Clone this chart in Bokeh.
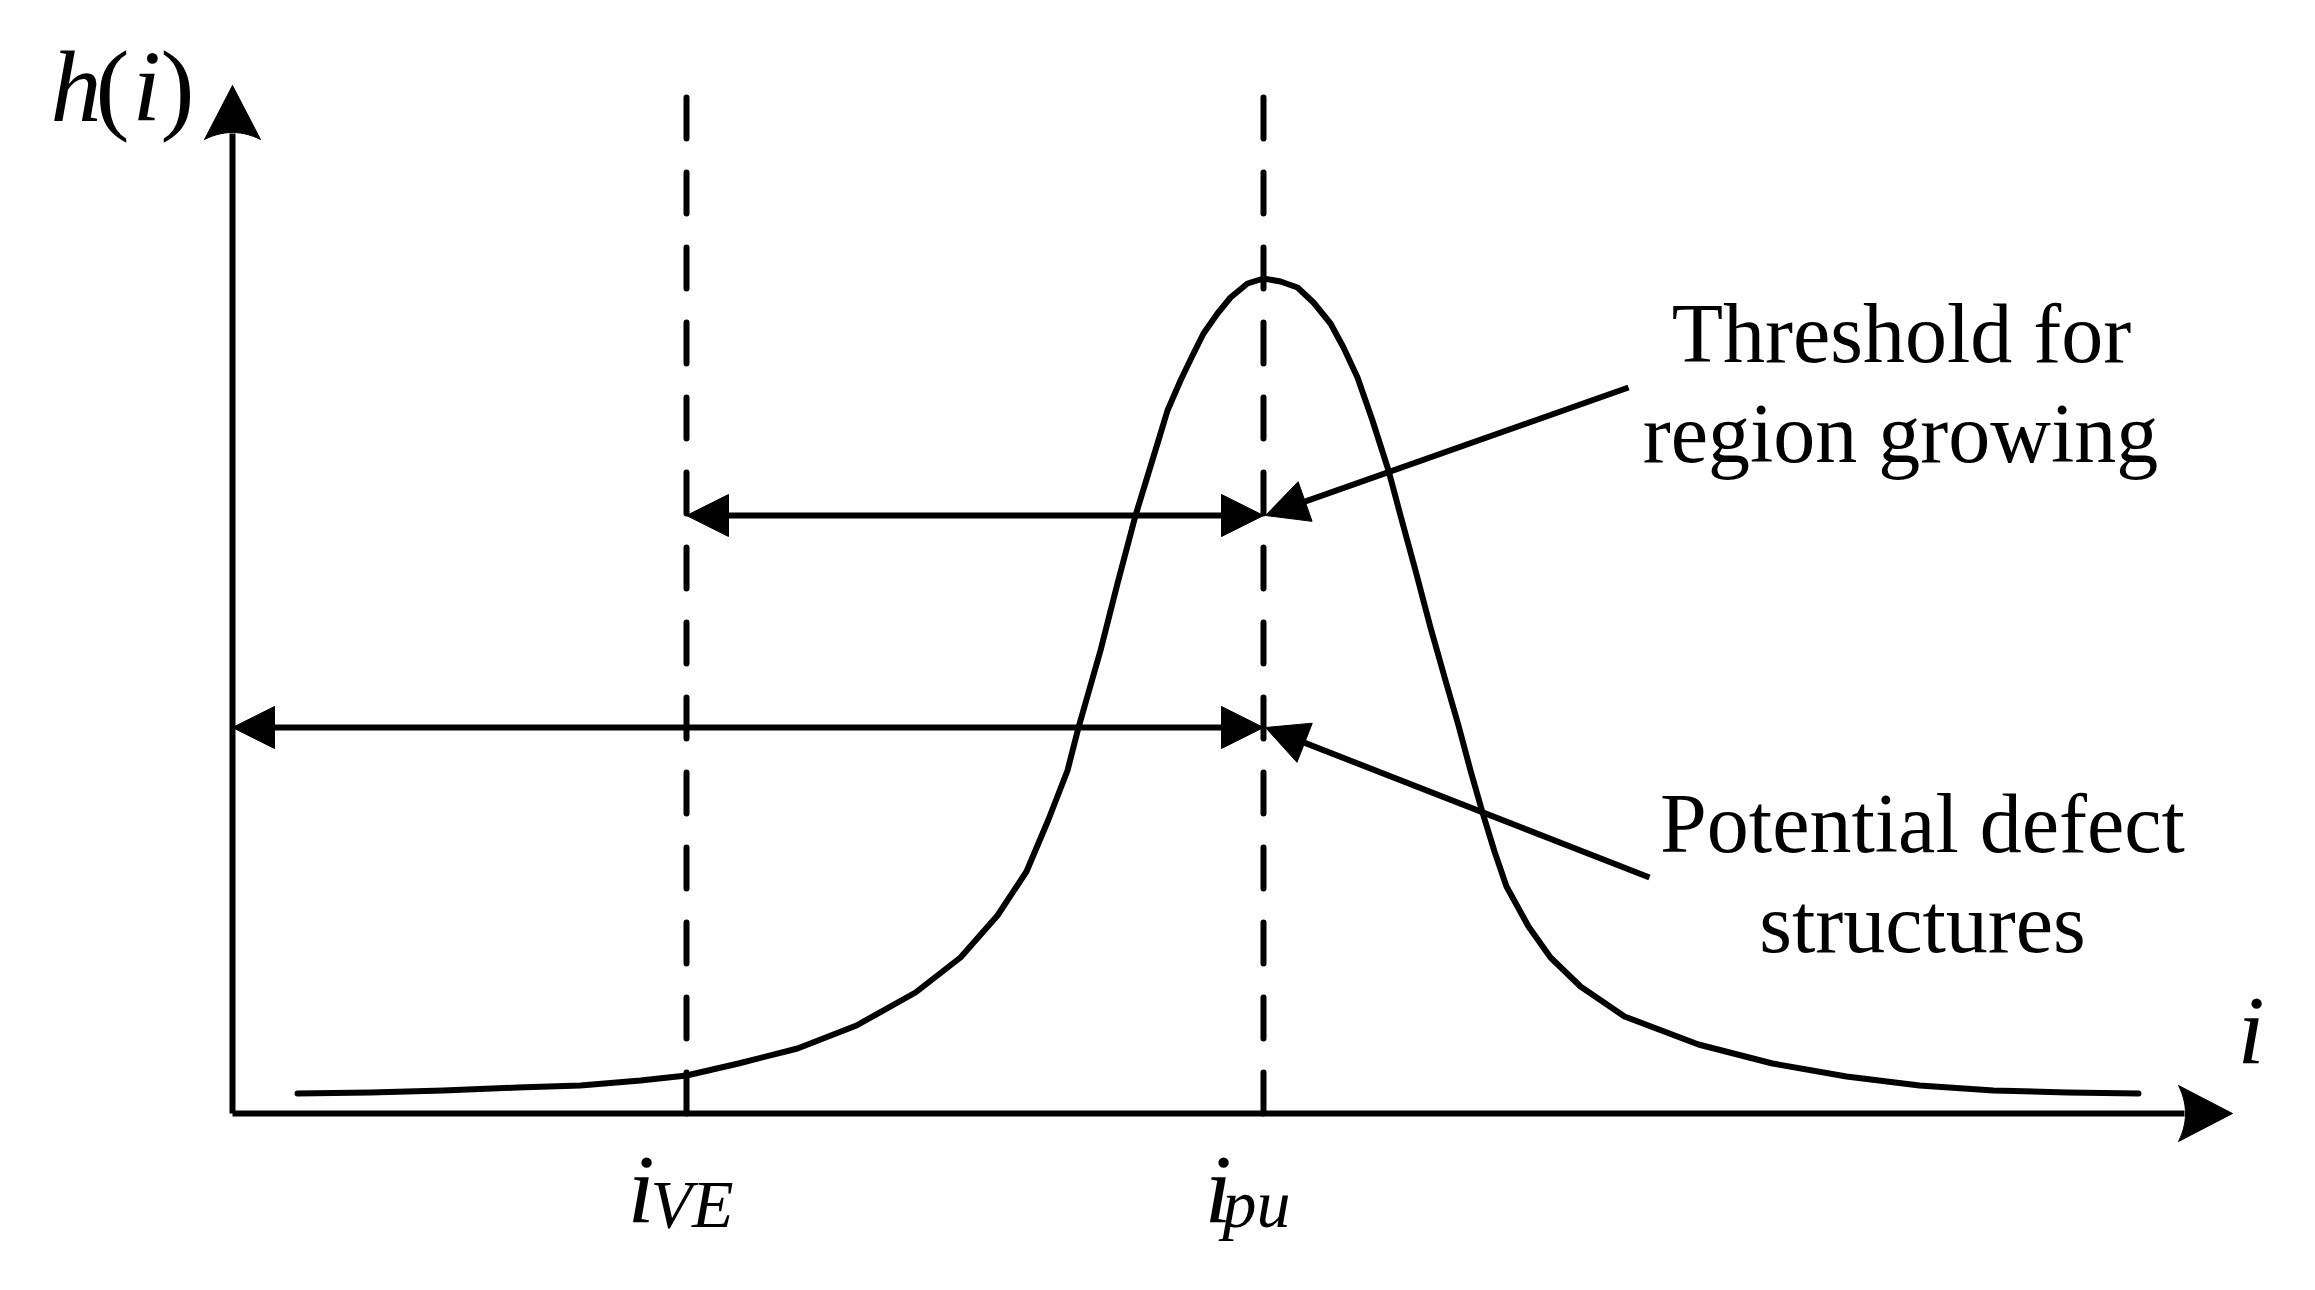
import numpy as np
from bokeh.plotting import figure
from bokeh.models import Range1d, Arrow, NormalHead, ColumnDataSource
from bokeh.core.properties import value
from bokeh.embed import file_html
from bokeh.resources import INLINE

# ---------------- data (schematic units: pixels from the axis origin) -------------
curve_i = [65, 138, 211, 285, 348, 408, 454, 506, 565, 624, 683, 728, 765, 794, 816,
           835, 846, 868, 885, 903, 925, 935, 948, 960, 971, 985, 998, 1015, 1031,
           1048, 1065, 1081, 1098, 1111, 1125, 1140, 1156, 1168, 1183, 1198, 1213,
           1226, 1238, 1250, 1262, 1274, 1296, 1318, 1348, 1392, 1466, 1540, 1614,
           1687, 1761, 1835, 1906]
curve_h = [20, 21, 23, 26, 28, 33, 38, 50, 65, 88, 121, 156, 198, 242, 294,
           343, 386, 463, 530, 598, 670, 703, 733, 758, 780, 800, 816, 830, 835,
           832, 826, 811, 790, 766, 736, 693, 643, 598, 543, 486, 433,
           388, 343, 301, 262, 227, 187, 156, 127, 97, 69, 50, 37,
           28, 23, 21, 20]

i_VE = 454          # position of i_VE on the i axis
i_pu = 1031         # position of i_pu (histogram peak)
dash_top = 1016     # top of the dashed guide lines
axis_x_end = 2000   # tip of the i axis arrow
axis_y_end = 1028   # tip of the h(i) axis arrow
thr_level = 598     # level of the "threshold for region growing" arrow
def_level = 386     # level of the "potential defect structures" arrow

leader_start_u = [1396, 1417]
leader_start_v = [726, 236]
leader_end_v = [thr_level, def_level]

label_text = ["Threshold for", "region growing", "Potential defect", "structures"]
label_u = [1669, 1668, 1690, 1690]
label_v = [751, 651, 261, 161]

FONT = "Liberation Serif"
BLACK = "#000000"
LW = 6
TDY = 29            # baseline correction for rendered text

p = figure(width=2299, height=1274,
           x_range=Range1d(-232, 2067), y_range=Range1d(-161, 1113),
           output_backend="svg", toolbar_location=None,
           x_axis_location=None, y_axis_location=None, min_border=0)
p.grid.visible = False
p.outline_line_color = None
p.background_fill_color = "white"
p.border_fill_color = "white"

# ---------------- axes with arrow heads ----------------
def head(tip_u, tip_v, du, dv, L=54, W=56, notch=7):
    d = np.array([du, dv], float)
    n = np.array([-dv, du], float)
    tip = np.array([tip_u, tip_v], float)
    pts = [tip]
    for t in np.linspace(1, -1, 15):
        pts.append(tip - (L - notch * (1 - t * t)) * d + t * (W / 2) * n)
    pts = np.array(pts)
    return pts[:, 0], pts[:, 1]

p.line([0, 0], [0, axis_y_end - 48], line_color=BLACK, line_width=LW)
p.line([0, axis_x_end - 48], [0, 0], line_color=BLACK, line_width=LW)
hx, hy = head(0, axis_y_end, 0, 1)
p.patch(hx, hy, color=BLACK)
hx, hy = head(axis_x_end, 0, 1, 0)
p.patch(hx, hy, color=BLACK)

# ---------------- dashed guide lines ----------------
for xv in (i_VE, i_pu):
    p.line([xv, xv], [dash_top, 0], line_color=BLACK, line_width=LW,
           line_dash="41 34", line_cap="round")

# ---------------- histogram curve ----------------
p.line(curve_i, curve_h, line_color=BLACK, line_width=LW, line_join="round", line_cap="round")

# ---------------- double-headed arrows ----------------
def nh():
    return NormalHead(size=42, fill_color=BLACK, line_color=BLACK, line_width=1)

p.add_layout(Arrow(start=nh(), end=nh(), x_start=i_VE, y_start=thr_level,
                   x_end=i_pu, y_end=thr_level, line_color=BLACK, line_width=LW))
p.add_layout(Arrow(start=nh(), end=nh(), x_start=0, y_start=def_level,
                   x_end=i_pu, y_end=def_level, line_color=BLACK, line_width=LW))

# ---------------- leader arrows ----------------
for su, sv, ev in zip(leader_start_u, leader_start_v, leader_end_v):
    p.add_layout(Arrow(end=nh(), x_start=su, y_start=sv, x_end=i_pu + 2, y_end=ev,
                       line_color=BLACK, line_width=LW))

# ---------------- annotation texts ----------------
src = ColumnDataSource(dict(x=label_u, y=[v + TDY for v in label_v], t=label_text))
p.text("x", "y", text="t", source=src, text_font=value(FONT), text_font_size="84px",
       text_align="center", text_baseline="alphabetic", text_color=BLACK)

def txt(u, v, s, size, style):
    p.text([u], [v + TDY], text=[s], text_font=value(FONT), text_font_size=size,
           text_font_style=style, text_align="left", text_baseline="alphabetic",
           text_color=BLACK)

# h(i) axis title
txt(-182, 998, "h", "102px", "italic")
txt(-137, 998, "(", "102px", "normal")
txt(-100, 998, "i", "102px", "italic")
txt(-72, 998, ")", "102px", "normal")
# i axis title
txt(2005, 55, "i", "98px", "italic")
# i_VE and i_pu
txt(i_VE - 59, -104, "i", "98px", "italic")
txt(i_VE - 36, -119, "VE", "68px", "italic")
txt(i_pu - 59, -104, "i", "98px", "italic")
txt(i_pu - 41, -119, "pu", "68px", "italic")

open("out.html", "w").write(file_html(p, INLINE))
